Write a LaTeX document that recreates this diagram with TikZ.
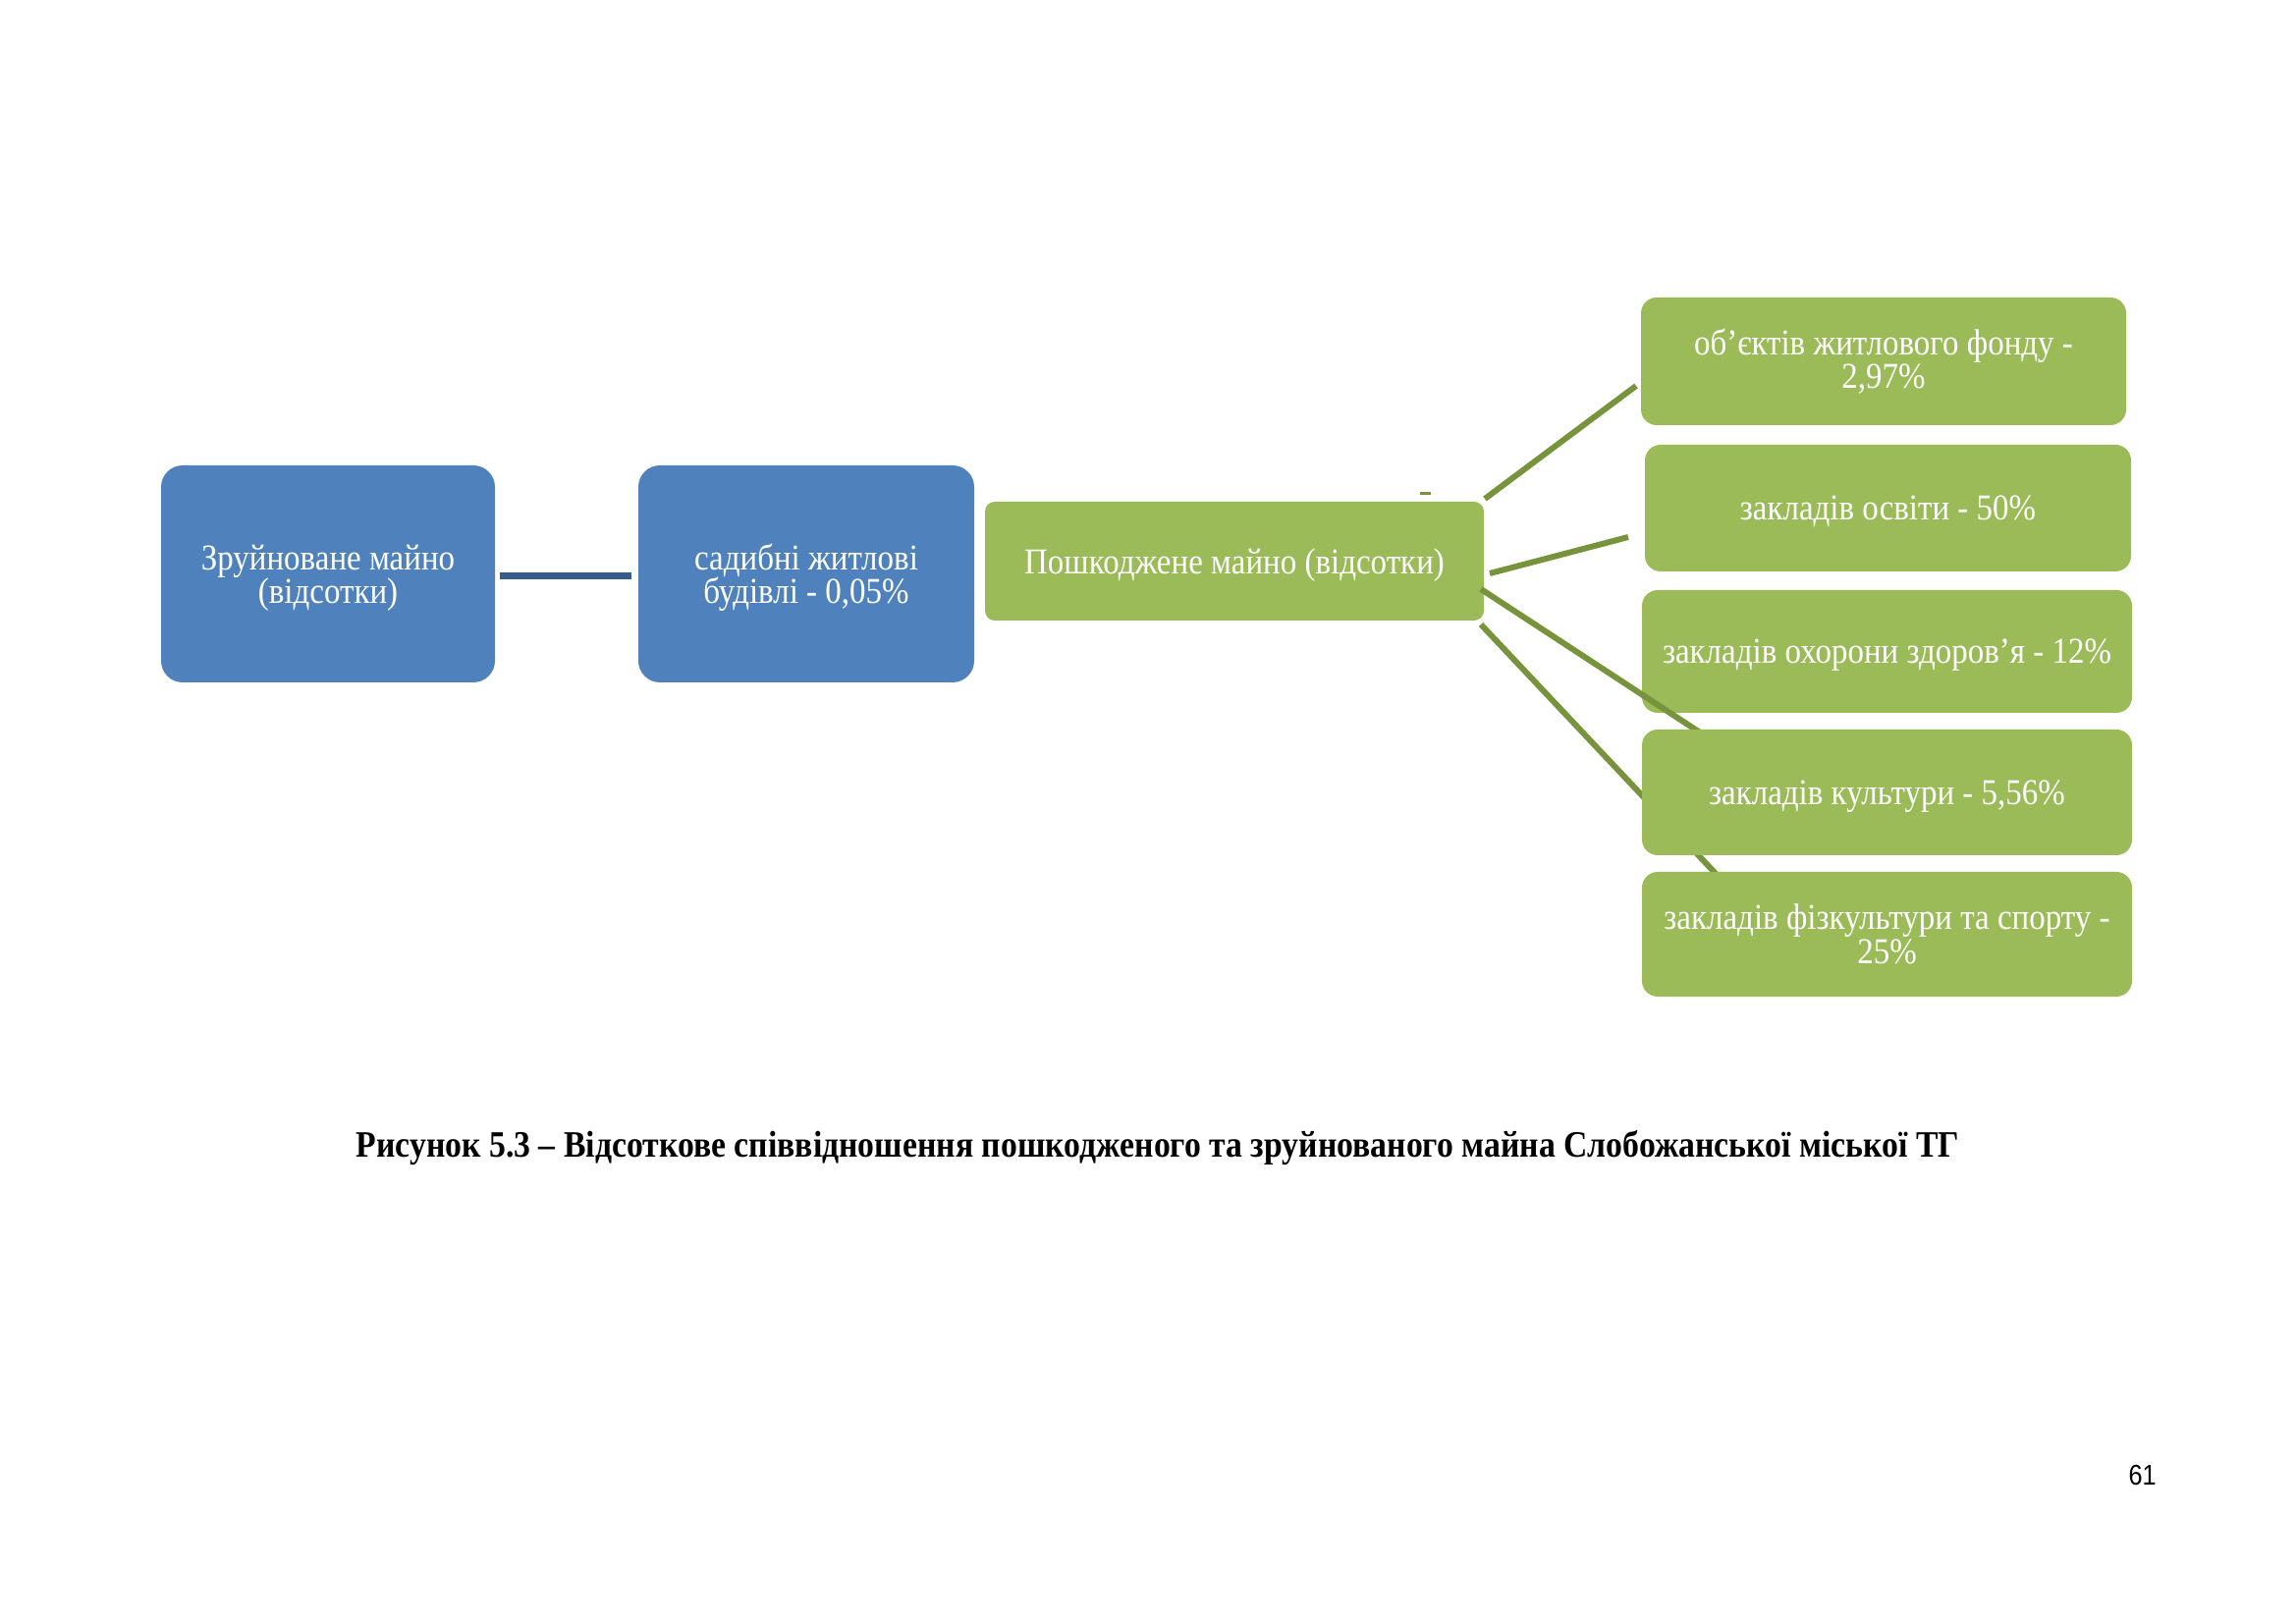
\documentclass[tikz,border=0pt]{standalone}
\usepackage{fontspec}
\setmainfont[FakeStretch=0.89]{Liberation Serif}
\newfontfamily\pagenumfont[FakeStretch=0.87]{Liberation Sans}
\definecolor{boxblue}{HTML}{4F81BD}
\definecolor{boxgreen}{HTML}{9BBB59}
\definecolor{linegreen}{HTML}{77933C}
\definecolor{lineblue}{HTML}{385D8A}
\tikzset{
  boxtext/.style={text=white, align=center, font=\fontsize{13.4}{12.4}\selectfont, inner sep=0pt},
  bluebox/.style={boxtext, fill=boxblue, rounded corners={22*0.12703mm}, text depth=0pt},
  greenbox/.style={boxtext, fill=boxgreen, rounded corners={16*0.12703mm}},
  oneline/.style={text depth=0pt},
  greenline/.style={draw=linegreen, line width={6*0.12703mm}},
  blueline/.style={draw=lineblue, line width={7*0.12703mm}},
}
\begin{document}
\begin{tikzpicture}[x=0.12703mm,y=-0.12703mm]
\useasboundingbox (0,0) rectangle (2338,1654);
% blue boxes
\node[bluebox, minimum width={340*0.12703mm}, minimum height={221*0.12703mm}] (zr) at (334,584.5) {Зруйноване майно\\(відсотки)};
\node[bluebox, minimum width={342*0.12703mm}, minimum height={221*0.12703mm}] (sad) at (821,584.5) {садибні житлові\\будівлі - 0,05\%};
\path (zr.east) ++(4,2) coordinate (zrE) (sad.west) ++(-6,2) coordinate (sadW);
\draw[blueline] (zrE) -- (sadW);
% central green box
\node[greenbox, oneline, minimum width={508*0.12703mm}, minimum height={121*0.12703mm}, rounded corners={10*0.12703mm}] (pm) at (1257,571.5) {Пошкоджене майно (відсотки)};
% small dash
\coordinate (dashA) at (1446,503);
\coordinate (dashB) at (1457,503);
\draw[draw=linegreen, line width={3*0.12703mm}] (dashA) -- (dashB);
% right boxes (upper three)
\node[greenbox, minimum width={494*0.12703mm}, minimum height={130*0.12703mm}] (ba) at (1918,368) {об’єктів житлового фонду -\\2,97\%};
\node[greenbox, oneline, minimum width={495*0.12703mm}, minimum height={129*0.12703mm}] (bb) at (1922.5,517.5) {закладів освіти - 50\%};
\node[greenbox, oneline, minimum width={499*0.12703mm}, minimum height={125*0.12703mm}] (bc) at (1921.5,663.5) {закладів охорони здоров’я - 12\%};
% connectors
\coordinate (pa) at (1512,508);
\coordinate (pb) at (1517,584);
\coordinate (pc) at (1508,600);
\coordinate (pd) at (1508,636);
\coordinate (ea) at (1666,393);
\coordinate (eb) at (1658,547);
\coordinate (ec) at (1731,746);
\coordinate (ed) at (1752,895);
\draw[greenline] (pa) -- (ea);
\draw[greenline] (pb) -- (eb);
\draw[greenline] (pc) -- (ec);
\draw[greenline] (pd) -- (ed);
% lower two boxes
\node[greenbox, oneline, minimum width={499*0.12703mm}, minimum height={128*0.12703mm}] (bd) at (1921.5,807) {закладів культури - 5,56\%};
\node[greenbox, minimum width={499*0.12703mm}, minimum height={127*0.12703mm}] (be) at (1921.5,951.5) {закладів фізкультури та спорту -\\25\%};
% caption
\node[anchor=base, inner sep=0pt, font=\fontsize{13.7}{16}\selectfont\bfseries] (cap) at (1179,1178) {Рисунок 5.3 – Відсоткове співвідношення пошкодженого та зруйнованого майна Слобожанської міської ТГ};
% page number
\node[anchor=base west, inner sep=0pt, font=\fontsize{10.5}{12}\pagenumfont] (pg) at (2167,1512) {61};
\end{tikzpicture}
\end{document}
